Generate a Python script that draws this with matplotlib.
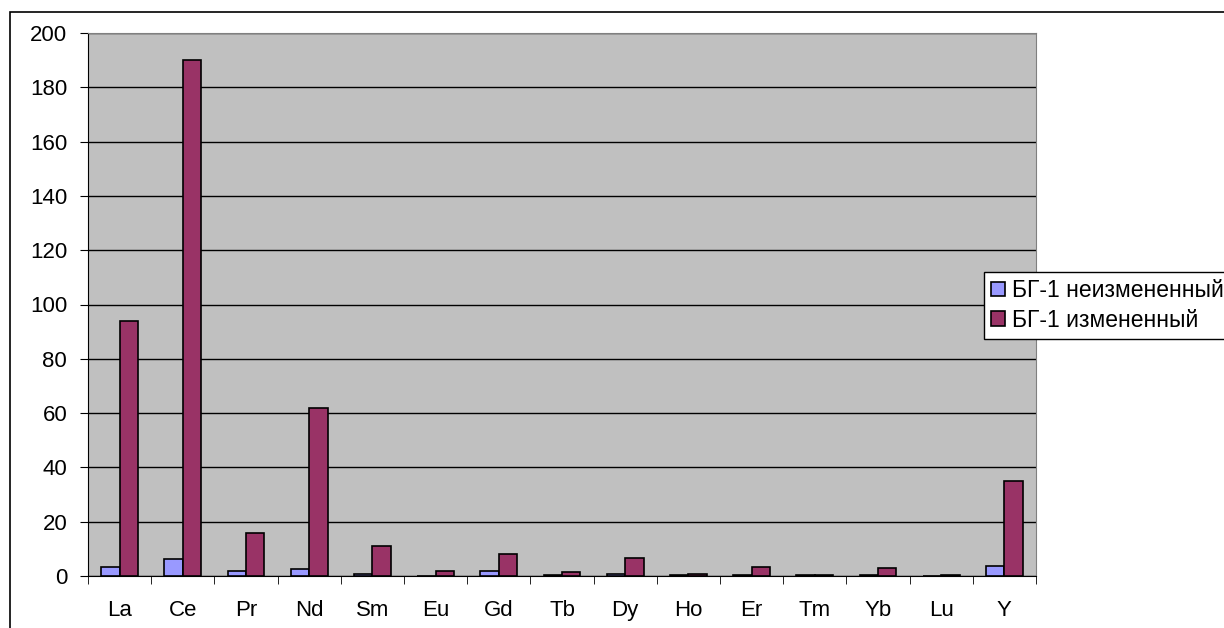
import numpy as np
import matplotlib.pyplot as plt
from matplotlib.patches import Rectangle

plt.rcParams['font.family'] = ['Liberation Sans', 'DejaVu Sans']

elements = ['La', 'Ce', 'Pr', 'Nd', 'Sm', 'Eu', 'Gd', 'Tb', 'Dy', 'Ho', 'Er', 'Tm', 'Yb', 'Lu', 'Y']
unaltered = [3.3, 6.1, 2.0, 2.5, 0.9, 0.1, 2.0, 0.3, 0.9, 0.3, 0.3, 0.3, 0.3, 0.0, 3.8]
altered = [94, 190, 16, 62, 11.2, 2.0, 8.0, 1.5, 6.6, 0.9, 3.3, 0.3, 2.9, 0.4, 35.1]
labels = ['БГ-1 неизмененный', 'БГ-1 измененный']

fig = plt.figure(figsize=(12.24, 6.28), dpi=100)
ax = fig.add_axes([88/1224, 1-576/628, 948/1224, 543/628])
ax.set_facecolor('#C0C0C0')

x = np.arange(len(elements))
w = 0.29
ax.bar(x - w/2, unaltered, w, color='#9999FF', edgecolor='black', linewidth=1.2, label=labels[0], zorder=3)
ax.bar(x + w/2, altered, w, color='#993366', edgecolor='black', linewidth=1.2, label=labels[1], zorder=3)

ax.set_xlim(-0.5, len(elements) - 0.5)
ax.set_ylim(0, 200)
ax.set_yticks(np.arange(0, 201, 20))
ax.yaxis.grid(True, color='black', linewidth=1, zorder=1)
ax.set_xticks(x)
ax.set_xticklabels(elements)
ax.set_xticks(np.arange(-0.5, len(elements), 1), minor=True)
ax.tick_params(axis='x', which='major', length=0, pad=17, labelsize=16)
ax.tick_params(axis='x', which='minor', length=6, direction='out')
ax.tick_params(axis='y', length=6, direction='out', pad=9, labelsize=16)

for s in ['left', 'bottom']:
    ax.spines[s].set_color('black')
for s in ['top', 'right']:
    ax.spines[s].set_color('#808080')

fig.patches.append(Rectangle((10/1224, -0.1), 1.2, 1.1 - 12/628, transform=fig.transFigure,
                             fill=False, edgecolor='black', linewidth=1.2, clip_on=False))

leg = fig.legend(loc='upper left', bbox_to_anchor=(984/1224, 1-272/628), fontsize=16.5,
                 frameon=True, fancybox=False, edgecolor='black', framealpha=1,
                 handlelength=0.6, handleheight=0.6, handletextpad=0.3, borderpad=0.3,
                 labelspacing=0.3, borderaxespad=0)
leg.get_frame().set_linewidth(1)

fig.savefig('out.png', dpi=100)
